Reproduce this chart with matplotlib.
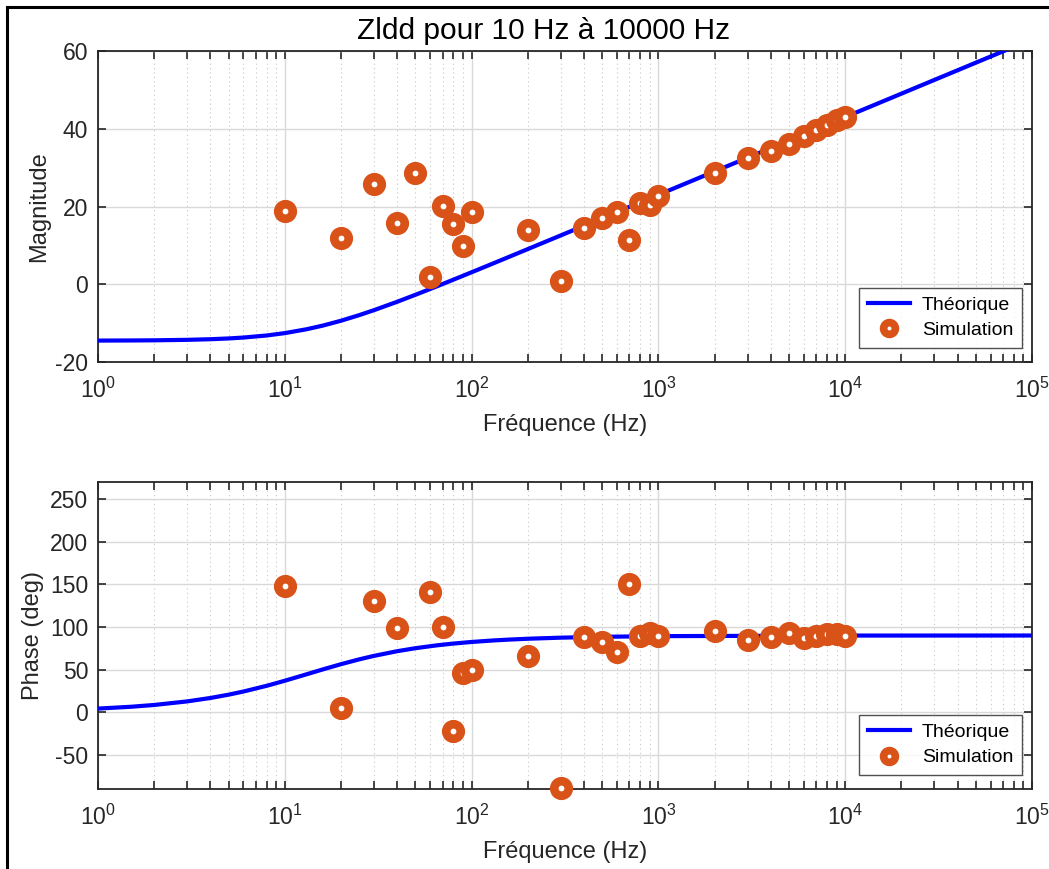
import numpy as np
import matplotlib
matplotlib.use("Agg")
import matplotlib.pyplot as plt
from matplotlib.lines import Line2D
from matplotlib.ticker import LogLocator, NullFormatter

plt.rcParams['font.family'] = ['Liberation Sans', 'DejaVu Sans']
plt.rcParams['axes.unicode_minus'] = False

# ---- Data ----
title = "Zldd pour 10 Hz à 10000 Hz"

# Theoretical curve
theo_freq = [1, 1.5, 2, 3, 4, 5, 6, 8, 10, 13, 16, 20, 25, 30, 40, 50, 65, 80,
             100, 130, 160, 200, 300, 500, 1000, 10000, 100000]
theo_mag = [-14.49, -14.46, -14.42, -14.30, -14.14, -13.94, -13.71, -13.18, -12.57,
            -11.60, -10.63, -9.38, -7.95, -6.67, -4.50, -2.72, -0.56, 1.19, 3.08,
            5.33, 7.12, 9.05, 12.56, 16.99, 23.01, 43.01, 63.01]
theo_phase = [4.30, 6.43, 8.55, 12.71, 16.74, 20.60, 24.28, 31.03, 36.94, 44.35,
              50.27, 56.38, 62.0, 66.09, 71.61, 75.10, 78.44, 80.56, 82.42, 84.16,
              85.25, 86.20, 87.46, 88.48, 89.24, 89.92, 89.99]

# Simulation points
sim_freq = [10, 20, 30, 40, 50, 60, 70, 80, 90, 100, 200, 300, 400, 500, 600, 700,
            800, 900, 1000, 2000, 3000, 4000, 5000, 6000, 7000, 8000, 9000, 10000]
sim_mag = [18.8, 12.0, 25.7, 15.7, 28.6, 1.8, 20.1, 15.6, 9.8, 18.5, 13.9, 0.8,
           14.4, 17.0, 18.5, 11.3, 20.8, 20.5, 22.6, 28.7, 32.6, 34.2, 36.2, 38.2,
           39.6, 40.9, 42.2, 42.9]
sim_phase = [147.5, 5.0, 131.0, 98.5, -130.0, 141.5, 100.0, -22.0, 46.5, 49.0,
             66.5, -89.0, 88.0, 82.0, 71.0, 150.5, 90.0, 93.5, 90.0, 95.5, 85.3,
             88.8, 93.5, 87.0, 90.0, 92.0, 92.0, 90.0]

mag_ticks = [-20, 0, 20, 40, 60]
phase_ticks = [-50, 0, 50, 100, 150, 200, 250]

# ---- Styling ----
blue = (0, 0, 1)
orange = (0.85, 0.325, 0.098)
axcol = (0.15, 0.15, 0.15)

fig = plt.figure(figsize=(10.49, 8.69), dpi=100)
ax1 = fig.add_axes([98/1049, 1-362/869, (1032-98)/1049, (362-51)/869])
ax2 = fig.add_axes([98/1049, 1-789/869, (1032-98)/1049, (789-482)/869])


def style(ax, ylim, yticks, ylabel):
    ax.set_xscale('log')
    ax.set_xlim(1, 1e5)
    ax.set_ylim(*ylim)
    ax.set_yticks(yticks)
    ax.xaxis.set_major_locator(LogLocator(base=10, numticks=10))
    ax.xaxis.set_minor_locator(LogLocator(base=10, subs=np.arange(2, 10), numticks=100))
    ax.xaxis.set_minor_formatter(NullFormatter())
    ax.grid(True, which='major', color=(0.85, 0.85, 0.85), linewidth=1.0, linestyle='-')
    ax.grid(True, which='minor', axis='x', color=(0.78, 0.78, 0.78), linewidth=0.8,
            linestyle=(0, (1, 3)))
    ax.set_axisbelow(True)
    ax.tick_params(which='both', direction='in', top=True, right=True, colors=axcol,
                   labelsize=16.5, width=1.2, length=6, pad=7)
    ax.tick_params(axis='x', which='both', pad=11)
    for s in ax.spines.values():
        s.set_color(axcol)
        s.set_linewidth(1.3)
    ax.set_xlabel('Fréquence (Hz)', fontsize=17, color=axcol, labelpad=8)
    ax.set_ylabel(ylabel, fontsize=17, color=axcol, labelpad=4)


style(ax1, (-20, 60), mag_ticks, 'Magnitude')
style(ax2, (-90, 270), phase_ticks, 'Phase (deg)')

marker_kw = dict(linestyle='none', marker='o', markersize=10.5, markeredgewidth=6.2,
                 markeredgecolor=orange, markerfacecolor='white')

ax1.plot(theo_freq, theo_mag, color=blue, linewidth=3, label='Théorique', zorder=3)
ax1.plot(sim_freq, sim_mag, label='Simulation', zorder=4, clip_on=False, **marker_kw)

ax2.plot(theo_freq, theo_phase, color=blue, linewidth=3, label='Théorique', zorder=3)
sf = np.array(sim_freq, dtype=float)
sp = np.array(sim_phase, dtype=float)
inside = (sp >= -90) & (sp <= 270)
ax2.plot(sf[inside], sp[inside], label='Simulation', zorder=4, clip_on=False, **marker_kw)

for ax in (ax1, ax2):
    leg = ax.legend(loc='lower right', bbox_to_anchor=(0.9895, 0.045), fontsize=14,
                    frameon=True, fancybox=False, handlelength=2.2, borderpad=0.45,
                    labelspacing=0.4, handletextpad=0.6, borderaxespad=0.0)
    leg.get_frame().set_edgecolor(axcol)
    leg.get_frame().set_linewidth(1.0)
    for h in leg.legend_handles:
        if h.get_marker() == 'o':
            h.set_markersize(8.5)
            h.set_markeredgewidth(5.5)

fig.text(544/1049, 1-31/869, title, ha='center', va='center', fontsize=21.5,
         color='black')

# Figure frame (left and top edges visible)
fig.add_artist(Line2D([7/1049, 7/1049], [0, 1-7/869], transform=fig.transFigure,
                      color='black', linewidth=2.2))
fig.add_artist(Line2D([7/1049, 1], [1-7/869, 1-7/869], transform=fig.transFigure,
                      color='black', linewidth=2.2))

fig.savefig('out.png', dpi=100)
